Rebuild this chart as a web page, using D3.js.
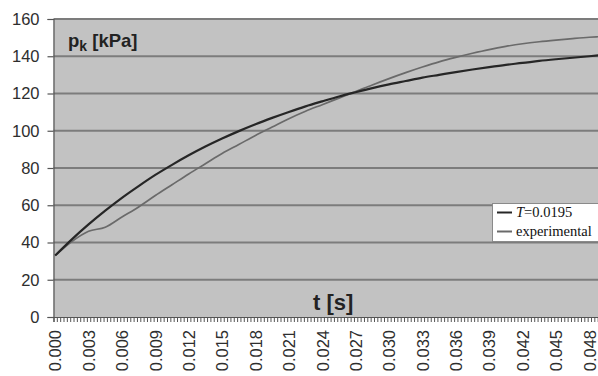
<!DOCTYPE html>
<html>
<head>
<meta charset="utf-8">
<script src="https://cdn.jsdelivr.net/npm/d3@7"></script>
<style>
  html, body { margin: 0; padding: 0; background: #fff; }
  svg { display: block; }
</style>
</head>
<body>
<svg id="chart" width="598" height="376"></svg>
<script>
// Sample times [s]
const times = [0, 0.0015, 0.003, 0.0045, 0.006, 0.0075, 0.009, 0.0105, 0.012, 0.0135,
  0.015, 0.0165, 0.018, 0.0195, 0.021, 0.0225, 0.024, 0.0255, 0.027, 0.0285,
  0.03, 0.0315, 0.033, 0.0345, 0.036, 0.0375, 0.039, 0.0405, 0.042, 0.0435,
  0.045, 0.0465, 0.048, 0.0489];

// Model response, T = 0.0195 [kPa]
const modelValues = [33.0, 41.7, 49.7, 57.1, 64.0, 70.3, 76.3, 81.7, 86.8, 91.5,
  95.8, 99.8, 103.5, 106.9, 110.1, 113.1, 115.8, 118.4, 120.7, 122.9,
  124.9, 126.7, 128.5, 130.0, 131.5, 132.9, 134.2, 135.4, 136.4, 137.5,
  138.4, 139.2, 140.0, 140.5];

// Measured pressure [kPa]
const experimentalValues = [33.0, 40.5, 46.0, 48.2, 53.7, 59.1, 65.2, 71.0, 76.8, 82.3,
  87.8, 92.6, 97.5, 102.0, 106.5, 110.5, 114.0, 117.5, 121.0, 124.6,
  128.0, 131.2, 134.2, 137.0, 139.4, 141.6, 143.6, 145.3, 146.7, 147.8,
  148.7, 149.5, 150.2, 150.5];

const xTickValues = [0, 0.003, 0.006, 0.009, 0.012, 0.015, 0.018, 0.021, 0.024,
  0.027, 0.03, 0.033, 0.036, 0.039, 0.042, 0.045, 0.048];
const xTickLabels = ["0.000", "0.003", "0.006", "0.009", "0.012", "0.015", "0.018", "0.021", "0.024",
  "0.027", "0.030", "0.033", "0.036", "0.039", "0.042", "0.045", "0.048"];
const yTickValues = [0, 20, 40, 60, 80, 100, 120, 140, 160];

const seriesNames = ["T=0.0195", "experimental"];

const svg = d3.select("#chart");
const plotLeft = 53.5, plotTop = 19, plotBottom = 317, plotRight = 601;
const step = 0.0003; // category spacing of the time axis

const x = d3.scaleLinear().domain([-step / 2, 0.0489 + step / 2]).range([plotLeft, plotRight]);
const y = d3.scaleLinear().domain([0, 160]).range([plotBottom, plotTop]);

const font = "'Liberation Sans', Arial, sans-serif";

// plot area
svg.append("rect")
  .attr("x", plotLeft).attr("y", plotTop)
  .attr("width", plotRight - plotLeft).attr("height", plotBottom - plotTop)
  .attr("fill", "#c2c2c2");

// horizontal gridlines
svg.append("g")
  .selectAll("line")
  .data(yTickValues.filter(v => v > 0))
  .join("line")
  .attr("x1", plotLeft).attr("x2", plotRight)
  .attr("y1", d => y(d)).attr("y2", d => y(d))
  .attr("stroke", "#7c7c7c")
  .attr("stroke-width", 1.8);

// y axis
const yAxis = d3.axisLeft(y).tickValues(yTickValues).tickSize(6).tickPadding(8);
const gy = svg.append("g").attr("transform", `translate(${plotLeft},0)`).call(yAxis);
gy.select(".domain").attr("stroke", "#555").attr("stroke-width", 1.2);
gy.selectAll(".tick line").attr("stroke", "#555").attr("stroke-width", 1.2);
gy.selectAll(".tick text")
  .attr("font-family", font).attr("font-size", 16.5).attr("fill", "#2e2e2e");

// x axis: minor ticks between categories
const boundaries = d3.range(0, 165).map(i => -step / 2 + i * step);
const xMinor = d3.axisBottom(x).tickValues(boundaries).tickSize(5).tickFormat("");
const gxm = svg.append("g").attr("transform", `translate(0,${plotBottom})`).call(xMinor);
gxm.select(".domain").attr("stroke", "#555").attr("stroke-width", 1.2);
gxm.selectAll(".tick line").attr("stroke", "#555").attr("stroke-width", 1);

// x axis labels, rotated
const xAxis = d3.axisBottom(x).tickValues(xTickValues).tickSize(0)
  .tickFormat((d, i) => xTickLabels[i]);
const gx = svg.append("g").attr("transform", `translate(0,${plotBottom})`).call(xAxis);
gx.select(".domain").remove();
gx.selectAll(".tick text")
  .attr("font-family", font).attr("font-size", 16.5).attr("fill", "#2e2e2e")
  .attr("text-anchor", "end")
  .attr("dy", "0.35em")
  .attr("transform", "translate(0,13) rotate(-90)")
  .attr("x", 0).attr("y", 0);

// series
const line = d3.line()
  .x(d => x(d[0]))
  .y(d => y(d[1]))
  .curve(d3.curveMonotoneX);

svg.append("path")
  .datum(times.map((t, i) => [t, experimentalValues[i]]))
  .attr("d", line)
  .attr("fill", "none")
  .attr("stroke", "#6a6a6a")
  .attr("stroke-width", 1.7);

svg.append("path")
  .datum(times.map((t, i) => [t, modelValues[i]]))
  .attr("d", line)
  .attr("fill", "none")
  .attr("stroke", "#262626")
  .attr("stroke-width", 2.2);

// axis titles
const yTitle = svg.append("text")
  .attr("x", 68).attr("y", 47)
  .attr("font-family", font).attr("font-weight", "bold")
  .attr("font-size", 18.5).attr("fill", "#222");
yTitle.append("tspan").text("p");
yTitle.append("tspan").attr("font-size", 14).attr("dy", 4).text("k");
yTitle.append("tspan").attr("dy", -4).text(" [kPa]");

svg.append("text")
  .attr("x", 313).attr("y", 310)
  .attr("font-family", font).attr("font-weight", "bold")
  .attr("font-size", 22).attr("fill", "#222")
  .text("t [s]");

// legend
const legend = svg.append("g");
legend.append("rect")
  .attr("x", 492.5).attr("y", 203.5)
  .attr("width", 120).attr("height", 38)
  .attr("fill", "#fff").attr("stroke", "#8a8a8a").attr("stroke-width", 1);
const legendColors = ["#262626", "#6a6a6a"];
seriesNames.forEach((name, i) => {
  const ly = 212.5 + i * 19;
  legend.append("line")
    .attr("x1", 497).attr("x2", 512)
    .attr("y1", ly).attr("y2", ly)
    .attr("stroke", legendColors[i]).attr("stroke-width", 2);
  const t = legend.append("text")
    .attr("x", 516).attr("y", ly + 4.5)
    .attr("font-family", "'Liberation Serif', 'Times New Roman', serif")
    .attr("font-size", 14.5).attr("fill", "#111");
  if (i === 0) {
    t.append("tspan").attr("font-style", "italic").text("T");
    t.append("tspan").text("=0.0195");
  } else {
    t.text(name);
  }
});
</script>
</body>
</html>
